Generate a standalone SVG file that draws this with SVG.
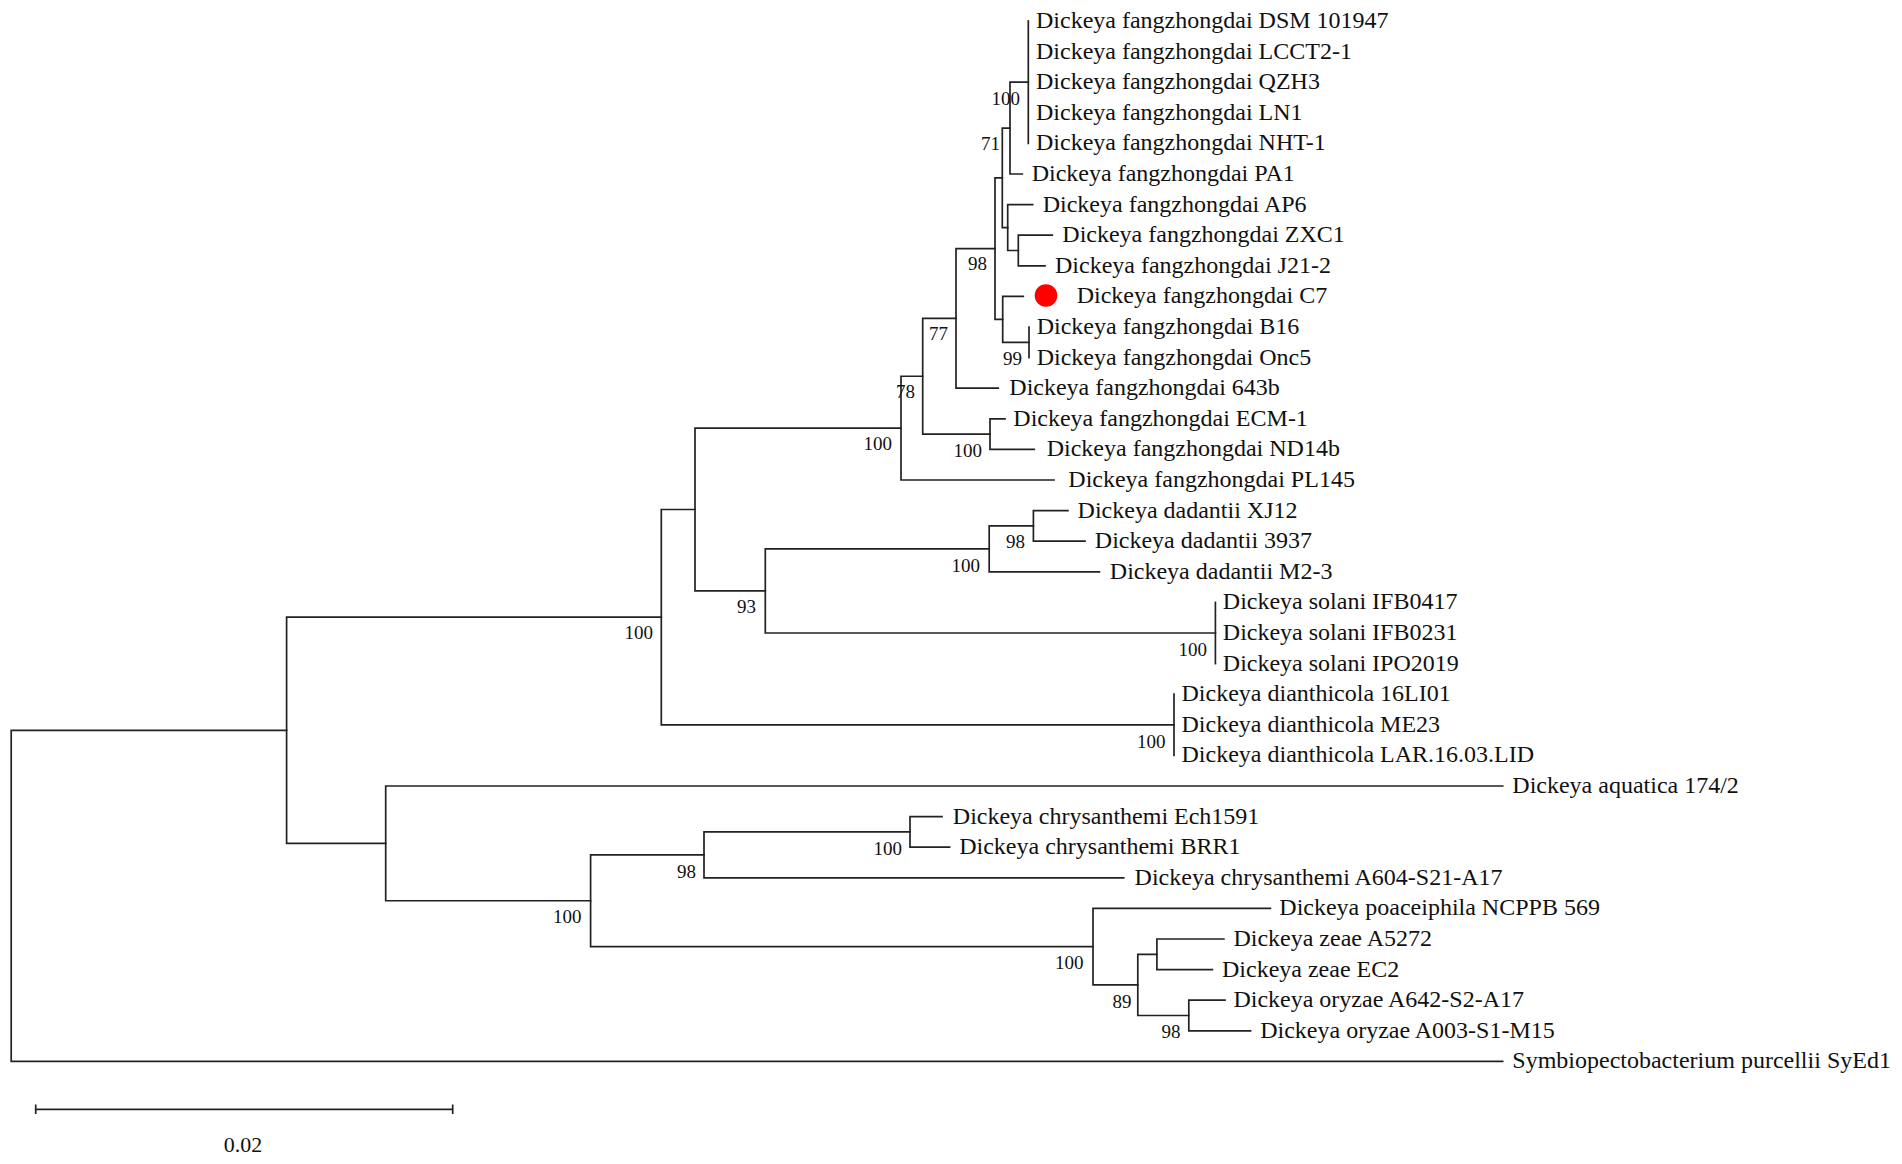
<svg xmlns="http://www.w3.org/2000/svg" width="1902" height="1164" viewBox="0 0 1902 1164">
<style>
.br{fill:none;stroke:#222;stroke-width:1.7;stroke-linecap:square;stroke-linejoin:miter}
.lf{font-family:"Liberation Serif","Times New Roman",serif;font-size:24px;fill:#111}
.bs{font-family:"Liberation Serif","Times New Roman",serif;font-size:19px;fill:#111;text-anchor:end}
.sc{font-family:"Liberation Serif","Times New Roman",serif;font-size:22px;fill:#111;text-anchor:middle}
</style>
<rect width="1902" height="1164" fill="#fff"/>
<g id="connectors">
<path class="br" d="M286.6,730.3 H11.2 V1061.4 H1502.7"/>
<path class="br" d="M661.3,617.15 H286.6 V843.4 H385.7"/>
<path class="br" d="M695,509.5 H661.3 V724.8 H1174"/>
<path class="br" d="M901,428.1 H695 V590.9 H765.3"/>
<path class="br" d="M922.7,376.25 H901 V480 H1054"/>
<path class="br" d="M956,318.4 H922.7 V434.1 H990"/>
<path class="br" d="M995,248.6 H956 V388.2 H998.3"/>
<path class="br" d="M1002.3,177.8 H995 V319.35 H1002.7"/>
<path class="br" d="M1010,128.1 H1002.3 V227.55 H1007.7"/>
<path class="br" d="M1028.3,82.2 H1010 V174 H1022.3"/>
<path class="br" d="M1028.3,21 V143.4"/>
<path class="br" d="M1032.7,204.6 H1007.7 V250.5 H1018.3"/>
<path class="br" d="M1052.3,235.2 H1018.3 V265.8 H1045"/>
<path class="br" d="M1023.3,296.4 H1002.7 V342.3 H1029"/>
<path class="br" d="M1029,327 V357.6"/>
<path class="br" d="M1005,418.8 H990 V449.4 H1034.3"/>
<path class="br" d="M989.2,548.85 H765.3 V633 H1215.4"/>
<path class="br" d="M1033.4,525.9 H989.2 V571.8 H1099.4"/>
<path class="br" d="M1067.9,510.6 H1033.4 V541.2 H1085"/>
<path class="br" d="M1215.4,602.4 V663.6"/>
<path class="br" d="M1174,694.2 V755.4"/>
<path class="br" d="M1502.7,786 H385.7 V900.75 H590.6"/>
<path class="br" d="M704,854.85 H590.6 V946.65 H1093"/>
<path class="br" d="M910,831.9 H704 V877.8 H1123.7"/>
<path class="br" d="M942,816.6 H910 V847.2 H949.6"/>
<path class="br" d="M1270.4,908.4 H1093 V984.9 H1137.8"/>
<path class="br" d="M1156.9,954.3 H1137.8 V1015.5 H1188.8"/>
<path class="br" d="M1223.9,939 H1156.9 V969.6 H1212.4"/>
<path class="br" d="M1225,1000.2 H1188.8 V1030.8 H1250.6"/>
</g>
<g id="bootstrap">
<text class="bs" x="1020" y="104.5">100</text>
<text class="bs" x="1000" y="149.5">71</text>
<text class="bs" x="987" y="269.5">98</text>
<text class="bs" x="948" y="339.5">77</text>
<text class="bs" x="1022" y="364.5">99</text>
<text class="bs" x="915" y="397.5">78</text>
<text class="bs" x="982" y="456.5">100</text>
<text class="bs" x="892" y="450">100</text>
<text class="bs" x="653" y="638.5">100</text>
<text class="bs" x="756" y="613">93</text>
<text class="bs" x="980" y="571.5">100</text>
<text class="bs" x="1025" y="548">98</text>
<text class="bs" x="1207" y="656">100</text>
<text class="bs" x="1165.5" y="748">100</text>
<text class="bs" x="581.6" y="923">100</text>
<text class="bs" x="696" y="878">98</text>
<text class="bs" x="902" y="855">100</text>
<text class="bs" x="1083.5" y="969">100</text>
<text class="bs" x="1131.4" y="1008">89</text>
<text class="bs" x="1180.5" y="1038">98</text>
</g>
<g id="leaf-DSM101947"><text class="lf" x="1036" y="28">Dickeya fangzhongdai DSM 101947</text></g>
<g id="leaf-LCCT2-1"><text class="lf" x="1036" y="58.6">Dickeya fangzhongdai LCCT2-1</text></g>
<g id="leaf-QZH3"><text class="lf" x="1036" y="89.2">Dickeya fangzhongdai QZH3</text></g>
<g id="leaf-LN1"><text class="lf" x="1036" y="119.8">Dickeya fangzhongdai LN1</text></g>
<g id="leaf-NHT-1"><text class="lf" x="1036" y="150.4">Dickeya fangzhongdai NHT-1</text></g>
<g id="leaf-PA1"><text class="lf" x="1031.7" y="181">Dickeya fangzhongdai PA1</text></g>
<g id="leaf-AP6"><text class="lf" x="1042.7" y="211.6">Dickeya fangzhongdai AP6</text></g>
<g id="leaf-ZXC1"><text class="lf" x="1062.3" y="242.2">Dickeya fangzhongdai ZXC1</text></g>
<g id="leaf-J21-2"><text class="lf" x="1055" y="272.8">Dickeya fangzhongdai J21-2</text></g>
<g id="leaf-C7"><circle cx="1046" cy="295.5" r="11.3" fill="#f00"/><text class="lf" x="1076.7" y="303.4">Dickeya fangzhongdai C7</text></g>
<g id="leaf-B16"><text class="lf" x="1036.7" y="334">Dickeya fangzhongdai B16</text></g>
<g id="leaf-Onc5"><text class="lf" x="1036.7" y="364.6">Dickeya fangzhongdai Onc5</text></g>
<g id="leaf-643b"><text class="lf" x="1009.3" y="395.2">Dickeya fangzhongdai 643b</text></g>
<g id="leaf-ECM-1"><text class="lf" x="1013.3" y="425.8">Dickeya fangzhongdai ECM-1</text></g>
<g id="leaf-ND14b"><text class="lf" x="1046.7" y="456.4">Dickeya fangzhongdai ND14b</text></g>
<g id="leaf-PL145"><text class="lf" x="1068.3" y="487">Dickeya fangzhongdai PL145</text></g>
<g id="leaf-XJ12"><text class="lf" x="1077.6" y="517.6">Dickeya dadantii XJ12</text></g>
<g id="leaf-3937"><text class="lf" x="1094.8" y="548.2">Dickeya dadantii 3937</text></g>
<g id="leaf-M2-3"><text class="lf" x="1109.8" y="578.8">Dickeya dadantii M2-3</text></g>
<g id="leaf-IFB0417"><text class="lf" x="1222.8" y="609.4">Dickeya solani IFB0417</text></g>
<g id="leaf-IFB0231"><text class="lf" x="1222.8" y="640">Dickeya solani IFB0231</text></g>
<g id="leaf-IPO2019"><text class="lf" x="1222.8" y="670.6">Dickeya solani IPO2019</text></g>
<g id="leaf-16LI01"><text class="lf" x="1181.5" y="701.2">Dickeya dianthicola 16LI01</text></g>
<g id="leaf-ME23"><text class="lf" x="1181.5" y="731.8">Dickeya dianthicola ME23</text></g>
<g id="leaf-LAR.16.03.LID"><text class="lf" x="1181.5" y="762.4">Dickeya dianthicola LAR.16.03.LID</text></g>
<g id="leaf-aquatica"><text class="lf" x="1512.3" y="793">Dickeya aquatica 174/2</text></g>
<g id="leaf-Ech1591"><text class="lf" x="952.8" y="823.6">Dickeya chrysanthemi Ech1591</text></g>
<g id="leaf-BRR1"><text class="lf" x="959.2" y="854.2">Dickeya chrysanthemi BRR1</text></g>
<g id="leaf-A604"><text class="lf" x="1134.6" y="884.8">Dickeya chrysanthemi A604-S21-A17</text></g>
<g id="leaf-poaceiphila"><text class="lf" x="1279.3" y="915.4">Dickeya poaceiphila NCPPB 569</text></g>
<g id="leaf-A5272"><text class="lf" x="1233.4" y="946">Dickeya zeae A5272</text></g>
<g id="leaf-EC2"><text class="lf" x="1222" y="976.6">Dickeya zeae EC2</text></g>
<g id="leaf-A642"><text class="lf" x="1233.4" y="1007.2">Dickeya oryzae A642-S2-A17</text></g>
<g id="leaf-A003"><text class="lf" x="1260.2" y="1037.8">Dickeya oryzae A003-S1-M15</text></g>
<g id="leaf-SyEd1"><text class="lf" x="1512.3" y="1068.4">Symbiopectobacterium purcellii SyEd1</text></g>
<g id="scale-bar">
<path class="br" style="stroke-linecap:butt" d="M35.7,1109.3 H452.7 M35.7,1104.5 V1114 M452.7,1104.5 V1114"/>
<text class="sc" x="243" y="1152">0.02</text>
</g>
</svg>
